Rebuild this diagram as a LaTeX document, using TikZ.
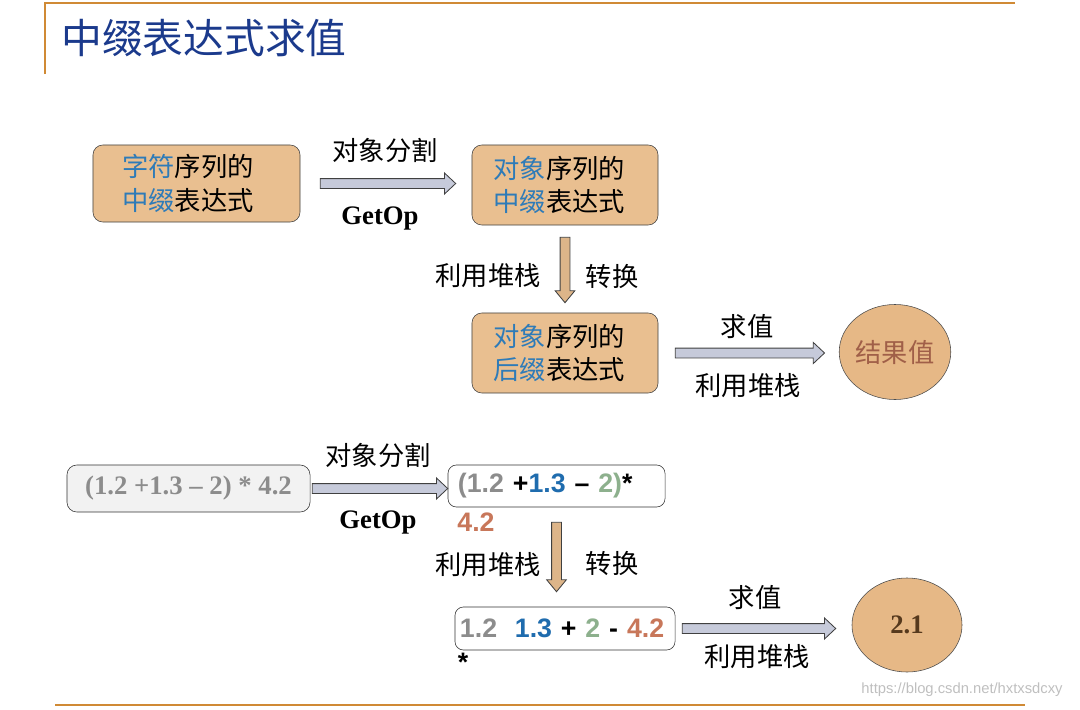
\documentclass[tikz,border=0pt]{standalone}
\usepackage{fontspec}
\setmainfont{Liberation Serif}
\newfontfamily\cjk{Noto Sans CJK SC}
\newfontfamily\arial{Liberation Sans}
\usepackage{xcolor}
\usetikzlibrary{positioning, calc, shapes.geometric}

\definecolor{titleblue}{HTML}{1B3A8C}
\definecolor{cblue}{HTML}{2E7BB8}
\definecolor{nblue}{HTML}{1F6CAE}
\definecolor{ngray}{HTML}{8C8C8C}
\definecolor{ngreen}{HTML}{8DB08D}
\definecolor{nbrown}{HTML}{C8775A}
\definecolor{tanfill}{HTML}{E9BF90}
\definecolor{ellfill}{HTML}{E6B886}
\definecolor{arrfill}{HTML}{C6CADA}
\definecolor{rulecol}{HTML}{D08A35}

\begin{document}
\begin{tikzpicture}[
    x=0.025cm, y=-0.025cm,
    tanbox/.style={
        rectangle,
        rounded corners=7pt,
        draw=black!75,
        fill=tanfill,
        align=center,
        inner sep=0pt,
        font=\cjk\fontsize{18.7}{24}\selectfont
    },
    exprbox/.style={
        rectangle,
        rounded corners=6pt,
        draw=black!80,
        fill=white,
        align=left,
        inner ysep=0pt,
        font=\arial\bfseries\fontsize{19}{22}\selectfont
    },
    result/.style={
        ellipse,
        draw=black!70,
        fill=ellfill,
        inner sep=0pt
    },
    lbl/.style={
        inner sep=0pt,
        font=\cjk\fontsize{18.7}{22}\selectfont
    },
    oplbl/.style={
        inner sep=0pt,
        font=\bfseries\fontsize{19}{22}\selectfont
    },
    harr/.style={
        draw=black!75,
        fill=arrfill,
        line width=0.6pt,
        to path={let \p1=(\tikztostart), \p2=(\tikztotarget) in
            (\x1,\y1+3.5pt) -- (\x2-8pt,\y1+3.5pt) -- (\x2-8pt,\y1+7.5pt) --
            (\x2,\y1) -- (\x2-8pt,\y1-7.5pt) -- (\x2-8pt,\y1-3.5pt) --
            (\x1,\y1-3.5pt) -- cycle}
    },
    varr/.style={
        draw=black!75,
        fill=tanfill!95!black,
        line width=0.6pt,
        to path={let \p1=(\tikztostart), \p2=(\tikztotarget) in
            (\x1-3.5pt,\y1) -- (\x1-3.5pt,\y2+8.5pt) -- (\x1-7pt,\y2+8.5pt) --
            (\x1,\y2) -- (\x1+7pt,\y2+8.5pt) -- (\x1+3.5pt,\y2+8.5pt) --
            (\x1+3.5pt,\y1) -- cycle}
    }
]
\useasboundingbox (0,0) rectangle (1080,710);

% frame lines and title
\draw[rulecol, line width=2pt] (45,74) -- (45,3) -- (1015,3);
\draw[rulecol, line width=2pt] (55,705) -- (1025,705);
\node[anchor=west, inner sep=0pt, text=titleblue,
      font=\cjk\fontsize{29}{32}\selectfont] (title) at (61,38) {中缀表达式求值};

% upper flow
\node[tanbox, minimum width=5.175cm, minimum height=1.925cm] (chr) at (196.5,183.5)
    {\textcolor{cblue}{字符}序列的\hspace*{12pt}\\\textcolor{cblue}{中缀}表达式\hspace*{12pt}};
\node[tanbox, minimum width=4.65cm, minimum height=2cm] (infix) at (565,185)
    {\textcolor{cblue}{对象}序列的\hspace*{8pt}\\\textcolor{cblue}{中缀}表达式\hspace*{8pt}};
\node[tanbox, minimum width=4.65cm, minimum height=2cm] (postfix) at (565,353)
    {\textcolor{cblue}{对象}序列的\hspace*{8pt}\\\textcolor{cblue}{后缀}表达式\hspace*{8pt}};
\node[result, minimum width=2.625cm, minimum height=2.375cm,
      font=\cjk\fontsize{18.7}{22}\selectfont, text=nbrown!80!black] (value) at (895,352) {结果值};

\draw[harr] ([xshift=0.5cm]chr.east) to ([xshift=-0.4cm]infix.west);
\draw[varr] ([yshift=-0.3cm]infix.south) to ([yshift=0.25cm]postfix.north);
\draw[harr] ([xshift=0.425cm]postfix.east) to ([xshift=-0.36cm]value.west);

\node[lbl] (split1) at (385,150) {对象分割};
\node[oplbl] (getop1) at (380,218) {GetOp};
\node[lbl] (stack1) at (488,276) {利用堆栈};
\node[lbl] (conv1) at (612,276) {转换};
\node[lbl] (eval1) at (747,327) {求值};
\node[lbl] (stack2) at (748,386) {利用堆栈};

% lower flow, worked example
\node[rectangle, rounded corners=7pt, draw=black!80, fill=black!5,
      minimum width=6.075cm, minimum height=1.175cm, inner sep=0pt,
      text=ngray, font=\bfseries\fontsize{19}{22}\selectfont] (raw) at (188.5,488.5)
    {(1.2 +1.3 – 2) * 4.2};
\node[exprbox, inner xsep=0.25cm, text width=4.925cm, minimum height=1.05cm] (objs) at (556.5,486)
    {\textcolor{ngray}{(1.2} +\textcolor{nblue}{1.3} – \textcolor{ngreen}{2)}*};
\node[exprbox, inner xsep=0.125cm, text width=5.25cm, minimum height=1.075cm] (post) at (565,628.5)
    {\textcolor{ngray}{1.2}\ \ \textcolor{nblue}{1.3} + \textcolor{ngreen}{2} - \textcolor{nbrown}{4.2}};
\node[inner sep=0pt, text=nbrown, font=\arial\bfseries\fontsize{19}{22}\selectfont] (objtail) at (476,522) {4.2};
\node[inner sep=0pt, font=\arial\bfseries\fontsize{19}{22}\selectfont] (posttail) at (463,662) {*};
\node[result, minimum width=2.75cm, minimum height=2.35cm,
      font=\bfseries\fontsize{19}{22}\selectfont, text=brown!45!black] (answer) at (907,625) {2.1};

\draw[harr] ([xshift=0.05cm]raw.east) to (objs.west);
\draw[varr] ([yshift=-0.375cm]objs.south) to ([yshift=0.375cm]post.north);
\draw[harr] ([xshift=0.175cm]post.east) to ([xshift=-0.4cm]answer.west);

\node[lbl] (split2) at (378,455) {对象分割};
\node[oplbl] (getop2) at (378,522) {GetOp};
\node[lbl] (stack3) at (488,565) {利用堆栈};
\node[lbl] (conv2) at (612,563) {转换};
\node[lbl] (eval2) at (755,598) {求值};
\node[lbl] (stack4) at (757,657) {利用堆栈};

\node[inner sep=0pt, text=black!25, font=\arial\fontsize{10.5}{12}\selectfont] (mark) at (962,690)
    {https://blog.csdn.net/hxtxsdcxy};
\end{tikzpicture}
\end{document}
